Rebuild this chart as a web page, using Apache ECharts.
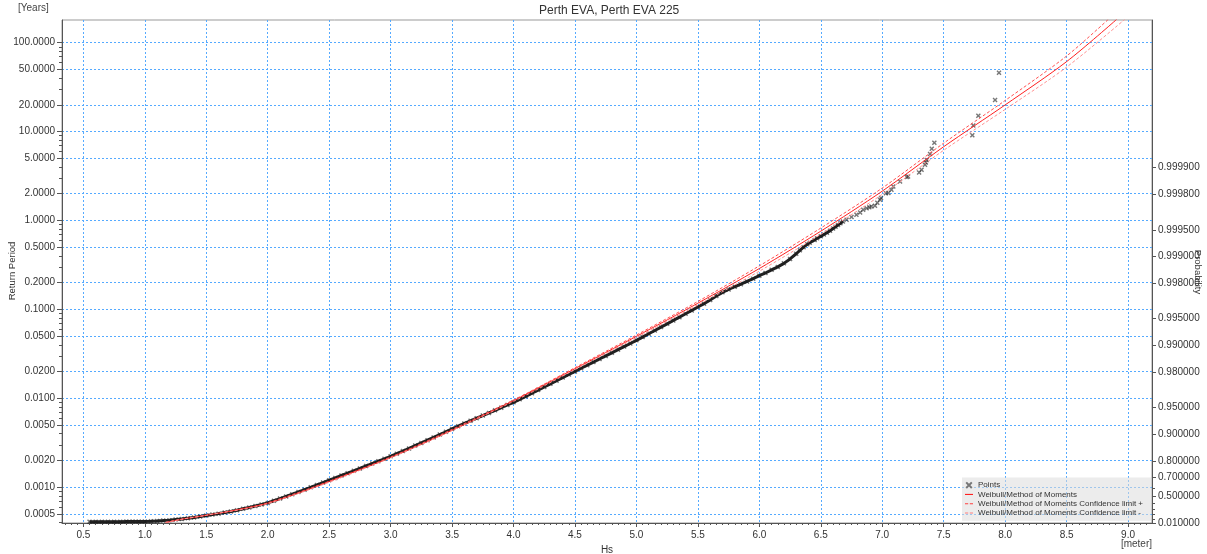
<!DOCTYPE html>
<html><head><meta charset="utf-8">
<script src="https://cdn.jsdelivr.net/npm/echarts@6/dist/echarts.min.js"></script>
<style>html,body{margin:0;padding:0;background:#fff}#c{width:1207px;height:554px}</style>
</head><body><div id="c"></div><script>
const titleText = 'Perth EVA, Perth EVA 225';
const xTickLabels = [0.5,1.0,1.5,2.0,2.5,3.0,3.5,4.0,4.5,5.0,5.5,6.0,6.5,7.0,7.5,8.0,8.5,9.0];
const yTickLabels = [0.0005,0.001,0.002,0.005,0.01,0.02,0.05,0.1,0.2,0.5,1,2,5,10,20,50,100];
const probTickLabels = [0.01,0.5,0.7,0.8,0.9,0.95,0.98,0.99,0.995,0.998,0.999,0.9995,0.9998,0.9999];
const probMinorLabels = [0.1,0.2,0.3,0.4,0.6];
const returnPeriodAtZeroProb = 0.000393;

// [Hs (m), return period (years)] - dense part of the sample
const pointsDense = [
[0.55,0.0004083],[0.60,0.0004083],[0.65,0.0004093],[0.70,0.0004093],[0.75,0.0004102],[0.80,0.0004102],
[0.85,0.0004112],[0.90,0.0004112],[0.95,0.0004121],[1.00,0.0004130],[1.05,0.0004150],[1.10,0.0004178],
[1.15,0.0004217],[1.20,0.0004266],[1.25,0.0004325],[1.30,0.0004395],[1.35,0.0004477],[1.40,0.0004571],
[1.45,0.0004688],[1.50,0.0004808],[1.55,0.0004920],[1.60,0.0005047],[1.65,0.0005188],[1.70,0.0005346],
[1.75,0.0005521],[1.80,0.0005715],[1.85,0.0005929],[1.90,0.0006152],[1.95,0.0006397],[2.00,0.0006668],
[2.05,0.0007047],[2.10,0.0007447],[2.15,0.0007889],[2.20,0.0008356],[2.25,0.0008851],[2.30,0.0009397],
[2.35,0.0009977],[2.40,0.001059],[2.45,0.001127],[2.50,0.001200],[2.55,0.001274],[2.60,0.001355],
[2.65,0.001439],[2.70,0.001531],[2.75,0.001629],[2.80,0.001734],[2.85,0.001845],[2.90,0.001963],
[2.95,0.002089],[3.00,0.002228],[3.05,0.002382],[3.10,0.002553],[3.15,0.002735],[3.20,0.002938],
[3.25,0.003148],[3.30,0.003381],[3.35,0.003631],[3.40,0.003908],[3.45,0.004207],[3.50,0.004529],
[3.55,0.004853],[3.60,0.005212],[3.65,0.005585],[3.70,0.005984],[3.75,0.006397],[3.80,0.006855],
[3.85,0.007328],[3.90,0.007852],[3.95,0.008414],[4.00,0.009016],[4.05,0.009750],[4.10,0.01054],
[4.15,0.01143],[4.20,0.01239],[4.25,0.01343],[4.30,0.01455],[4.35,0.01578],[4.40,0.01710],
[4.45,0.01854],[4.50,0.02009],[4.55,0.02178],[4.60,0.02360],[4.65,0.02559],[4.70,0.02773],
[4.75,0.02999],[4.80,0.03251],[4.85,0.03524],[4.90,0.03819],[4.95,0.04140],[5.00,0.04487],
[5.05,0.04887],[5.10,0.05321],[5.15,0.05794],[5.20,0.06324],[5.25,0.06887],[5.30,0.07516],
[5.35,0.08185],[5.40,0.08933],[5.45,0.09750],[5.50,0.1064],[5.55,0.1161],[5.60,0.1274],
[5.65,0.1413],[5.70,0.1556],[5.75,0.1679],[5.80,0.1799],[5.85,0.1923],[5.90,0.2065],
[5.95,0.2218],[6.00,0.2393],[6.05,0.2570],[6.10,0.2786],[6.15,0.3006],[6.20,0.3296],
[6.25,0.3698],[6.30,0.4227],[6.33,0.4624],[6.36,0.5012],[6.39,0.5395],[6.41,0.5623],
[6.45,0.6053],[6.47,0.6310],[6.50,0.6637],[6.525,0.6950],[6.55,0.7278],[6.575,0.7674],
[6.60,0.8128],[6.62,0.8511],[6.64,0.8913],[6.66,0.9333],[6.68,0.9750]
];
// sparse upper tail of the sample
const pointsTail = [
[6.71,1.019],[6.75,1.096],[6.79,1.159],[6.82,1.230],[6.845,1.318],[6.873,1.377],[6.895,1.413],
[6.912,1.436],[6.941,1.462],[6.96,1.585],[6.982,1.710],[6.99,1.786],[7.03,2.032],
[7.05,2.042],[7.075,2.213],[7.09,2.410],[7.145,2.742],[7.199,3.076],[7.21,3.119],
[7.30,3.459],[7.32,3.715],[7.348,4.227],[7.355,4.487],[7.362,4.808],[7.389,5.598],
[7.403,6.427],[7.424,7.516],[7.733,9.120],[7.741,11.75],[7.782,15.07],[7.918,22.70],
[7.95,46.03]
];
const weibull = [
[1.17,0.0004010],[1.3,0.0004365],[1.5,0.0004842],[1.75,0.0005559],[2.0,0.0006607],[2.25,0.0008610],
[2.5,0.001161],[3.0,0.002163],[3.5,0.004365],[4.0,0.009419],[4.5,0.02158],[5.0,0.04977],
[5.5,0.1175],[6.0,0.2884],[6.5,0.7586],[7.0,2.138],[7.5,6.761],[8.0,19.95],[8.5,61.24],[8.908,183.2]
];
const confPlus = [
[1.17,0.0004010],[1.3,0.0004365],[1.5,0.0004842],[2.0,0.0006683],[3.0,0.002188],[4.0,0.009594],
[4.5,0.02213],[5.0,0.05152],[5.5,0.1230],[6.0,0.3090],[6.5,0.8222],[7.0,2.317],[7.5,7.413],
[8.0,22.39],[8.5,70.79],[8.84,183.2]
];
const confMinus = [
[1.17,0.0004010],[1.3,0.0004365],[1.5,0.0004842],[2.0,0.0006531],[3.0,0.002138],[4.0,0.009247],
[4.5,0.02104],[5.0,0.04808],[5.5,0.1122],[6.0,0.2692],[6.5,0.6998],[7.0,1.972],[7.5,6.166],
[8.0,17.78],[8.5,53.09],[8.974,183.2]
];

const X_MIN = 0.326, X_MAX = 9.195, Y_MIN = 0.000396, Y_MAX = 180;
const FONT = 'Liberation Sans, Arial, sans-serif';
const gridBlue = {color:'#55aaff', type:[2,2], width:1};
const axisCol = '#555';

const xMinor = [];
for (let i = 7; i <= 183; i++) { const v = +(i*0.05).toFixed(2); if (v > X_MIN && v < X_MAX) xMinor.push(v); }
const yMinor = [];
[0.0001,0.001,0.01,0.1,1,10,100].forEach(d => [3,4,6,7,8,9].forEach(m => { const v = +(d*m).toPrecision(3); if (v > Y_MIN && v < Y_MAX) yMinor.push(v); }));
const probToT = p => returnPeriodAtZeroProb/(1-p);
const probValues = probTickLabels.map(probToT);
const probMinorValues = probMinorLabels.map(probToT);

const crossPath = 'path://M0,2L2,0L5,3L8,0L10,2L7,5L10,8L8,10L5,7L2,10L0,8L3,5Z';
const lineIcon = 'path://M0,4.3H10V5.7H0Z';
const dashIcon = 'path://M0,4.3H4V5.7H0Z M6,4.3H10V5.7H6Z';

const chart = echarts.init(document.getElementById('c'), null, {renderer:'canvas'});
chart.setOption({
  animation:false,
  textStyle:{fontFamily:FONT},
  title:{text:titleText, left:539, top:5, padding:0, textStyle:{fontSize:12, fontWeight:'normal', color:'#333', fontFamily:FONT}},
  grid:{left:62, right:55, top:20, bottom:31, show:true, borderColor:'#999', borderWidth:1, containLabel:false, outerBoundsMode:'none'},
  legend:{
    orient:'vertical', left:962, top:477.5, itemWidth:8, itemHeight:7, itemGap:0,
    padding:[3,8,3,3], backgroundColor:'rgba(220,220,220,0.55)',
    textStyle:{fontSize:8, lineHeight:9.3, color:'#333', fontFamily:FONT},
    data:[
      {name:'Points', icon:crossPath, itemStyle:{color:'#777'}},
      {name:'Weibull/Method of Moments', icon:lineIcon, itemStyle:{color:'#ff2020'}},
      {name:'Weibull/Method of Moments Confidence limit +', icon:dashIcon, itemStyle:{color:'#ff4040'}},
      {name:'Weibull/Method of Moments Confidence limit -', icon:dashIcon, itemStyle:{color:'#ff8080'}}
    ]
  },
  graphic:[
    {type:'text', left:18, top:3, style:{text:'[Years]', fontSize:10, fill:'#444', fontFamily:FONT}},
    {type:'text', right:55, top:539, style:{text:'[meter]', fontSize:10, fill:'#444', fontFamily:FONT}},
    {type:'text', x:12, y:271, rotation:Math.PI/2, style:{text:'Return Period', fontSize:9.5, fill:'#333', fontFamily:FONT, align:'center', verticalAlign:'middle'}},
    {type:'text', x:1198, y:272, rotation:-Math.PI/2, style:{text:'Probability', fontSize:9.5, fill:'#333', fontFamily:FONT, align:'center', verticalAlign:'middle'}}
  ],
  xAxis:[
    {type:'value', min:X_MIN, max:X_MAX, position:'bottom', name:'Hs', nameLocation:'middle', nameGap:21,
     nameTextStyle:{fontSize:10, color:'#333', fontFamily:FONT},
     axisLine:{show:true, onZero:false, lineStyle:{color:axisCol}},
     axisTick:{show:true, customValues:xTickLabels, length:4, lineStyle:{color:axisCol}},
     axisLabel:{customValues:xTickLabels, formatter:v=>v.toFixed(1), fontSize:10, color:'#333', margin:7, fontFamily:FONT},
     splitLine:{show:true, lineStyle:gridBlue}, splitArea:{show:false}},
    {type:'value', min:X_MIN, max:X_MAX, position:'bottom',
     axisLine:{show:false, onZero:false}, axisTick:{show:true, customValues:xMinor, length:2, lineStyle:{color:axisCol}},
     axisLabel:{show:false}, splitLine:{show:false}, splitArea:{show:false}}
  ],
  yAxis:[
    {type:'log', logBase:10, min:Y_MIN, max:Y_MAX, position:'left',
     axisLine:{show:true, onZero:false, lineStyle:{color:axisCol}},
     axisTick:{show:true, customValues:yTickLabels, length:5, lineStyle:{color:axisCol}},
     axisLabel:{customValues:yTickLabels, formatter:v=>v.toFixed(4), fontSize:10, color:'#333', margin:7, fontFamily:FONT},
     splitLine:{show:true, lineStyle:gridBlue}, splitArea:{show:false}},
    {type:'log', logBase:10, min:Y_MIN, max:Y_MAX, position:'right',
     axisLine:{show:true, onZero:false, lineStyle:{color:axisCol}},
     axisTick:{show:true, customValues:probValues, length:4, lineStyle:{color:axisCol}},
     axisLabel:{customValues:probValues, formatter:v=>(1-returnPeriodAtZeroProb/v).toFixed(6), fontSize:10, color:'#333', margin:6, fontFamily:FONT},
     splitLine:{show:false}, splitArea:{show:false}},
    {type:'log', logBase:10, min:Y_MIN, max:Y_MAX, position:'left',
     axisLine:{show:false, onZero:false}, axisTick:{show:true, customValues:yMinor, length:3, lineStyle:{color:axisCol}},
     axisLabel:{show:false}, splitLine:{show:false}, splitArea:{show:false}},
    {type:'log', logBase:10, min:Y_MIN, max:Y_MAX, position:'right',
     axisLine:{show:false, onZero:false}, axisTick:{show:true, customValues:probMinorValues, length:3, lineStyle:{color:axisCol}},
     axisLabel:{show:false}, splitLine:{show:false}, splitArea:{show:false}}
  ],
  series:[
    {name:'Points', type:'line', xAxisIndex:0, yAxisIndex:0, data:pointsDense, showSymbol:false, symbol:'none',
     lineStyle:{color:'rgba(10,10,10,0.9)', width:3}, itemStyle:{color:'#777'}, z:2, silent:true},
    {name:'Points', type:'scatter', xAxisIndex:0, yAxisIndex:0, data:pointsDense.concat(pointsTail), symbol:crossPath, symbolSize:5,
     itemStyle:{color:'rgba(30,30,30,0.75)'}, z:2},
    {name:'Weibull/Method of Moments', type:'line', xAxisIndex:0, yAxisIndex:0, data:weibull, showSymbol:false, symbol:'none', smooth:0.3,
     lineStyle:{color:'#ff2020', width:1}, itemStyle:{color:'#ff2020'}, clip:true, z:3},
    {name:'Weibull/Method of Moments Confidence limit +', type:'line', xAxisIndex:0, yAxisIndex:0, data:confPlus, showSymbol:false, symbol:'none', smooth:0.3,
     lineStyle:{color:'#ff5050', width:1, type:[3,2]}, itemStyle:{color:'#ff5050'}, clip:true, z:3},
    {name:'Weibull/Method of Moments Confidence limit -', type:'line', xAxisIndex:0, yAxisIndex:0, data:confMinus, showSymbol:false, symbol:'none', smooth:0.3,
     lineStyle:{color:'#ff9090', width:1, type:[3,2]}, itemStyle:{color:'#ff9090'}, clip:true, z:3}
  ]
});
</script></body></html>
